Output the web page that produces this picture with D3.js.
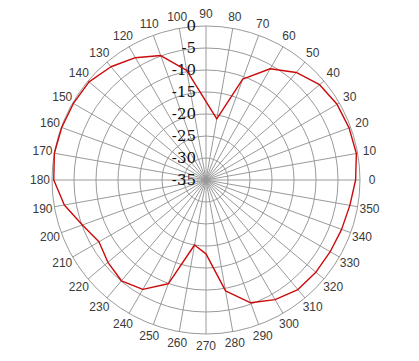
<!DOCTYPE html>
<html lang="en">
<head>
<meta charset="UTF-8">
<title>Polar pattern</title>
<style>
    body { margin: 0; background: #fff; }
    .grid line, .grid circle { fill: none; stroke: #9a9a9a; stroke-width: 1px; }
    .angle-label { font: 12px "Liberation Sans", sans-serif; fill: #3a3a3a; }
    .ring-label { font: 15px "DejaVu Serif", serif; fill: #111; }
    .trace { fill: none; stroke: #cc0a0a; stroke-width: 1.4px; stroke-linejoin: round; }
</style>
</head>
<body>
<script src="https://d3js.org/d3.v7.min.js"></script>
<script>
    // angles in degrees (counter-clockwise from east), gain in dB
    const angles = [0, 10, 20, 30, 40, 50, 60, 70, 80, 100, 110, 120, 130, 140, 150, 160, 170,
        180, 190, 200, 210, 220, 230, 240, 250, 260, 270, 280, 290, 300, 310, 320, 330, 340, 350];
    const gain = [-1.0, -0.3, -0.4, -0.6, -1.3, -3.1, -5.8, -10.6, -20.9, -9.7, -4.9, -2.9, -1.4, -0.3, -0.2, -0.1, 0,
        -0.4, -2.3, -5.1, -6.9, -5.9, -5.1, -6.3, -9.9, -20.0, -18.2, -9.4, -5.3, -3.6, -2.5, -2.4, -2.4, -2.2, -1.8];

    const ringTicks = [0, -5, -10, -15, -20, -25, -30, -35];
    const spokeTicks = d3.range(0, 360, 10);

    const width = 419, height = 361;
    const cx = 206, cy = 180, outerR = 154;

    const svg = d3.select("body").append("svg")
        .attr("width", width)
        .attr("height", height);

    const g = svg.append("g").attr("transform", "translate(" + cx + "," + cy + ")");

    const r = d3.scaleLinear().domain([-35, 0]).range([0, outerR]);
    const rad = deg => deg * Math.PI / 180;

    const grid = g.append("g").attr("class", "grid");

    grid.selectAll("circle")
        .data(ringTicks.filter(d => d > -35))
        .enter().append("circle")
        .attr("r", d => r(d));

    grid.selectAll("line")
        .data(spokeTicks)
        .enter().append("line")
        .attr("x1", 0).attr("y1", 0)
        .attr("x2", d => r(0) * Math.cos(rad(d)))
        .attr("y2", d => -r(0) * Math.sin(rad(d)));

    // angle labels round the outside
    g.selectAll(".angle-label")
        .data(spokeTicks)
        .enter().append("text")
        .attr("class", "angle-label")
        .attr("x", d => (outerR + 12) * Math.cos(rad(d)))
        .attr("y", d => -(outerR + 12) * Math.sin(rad(d)))
        .attr("text-anchor", "middle")
        .attr("dominant-baseline", "central")
        .text(d => d);

    // dB labels up the 90 degree spoke
    g.selectAll(".ring-label")
        .data(ringTicks)
        .enter().append("text")
        .attr("class", "ring-label")
        .attr("x", -10)
        .attr("y", d => -r(d))
        .attr("text-anchor", "end")
        .attr("dominant-baseline", "central")
        .text(d => d);

    const pts = angles.map((a, i) => ({ a: a, v: gain[i] }));

    const line = d3.lineRadial()
        .angle(d => rad(90 - d.a))
        .radius(d => r(d.v))
        .curve(d3.curveLinearClosed);

    g.append("path")
        .datum(pts)
        .attr("class", "trace")
        .attr("d", line);
</script>
</body>
</html>
